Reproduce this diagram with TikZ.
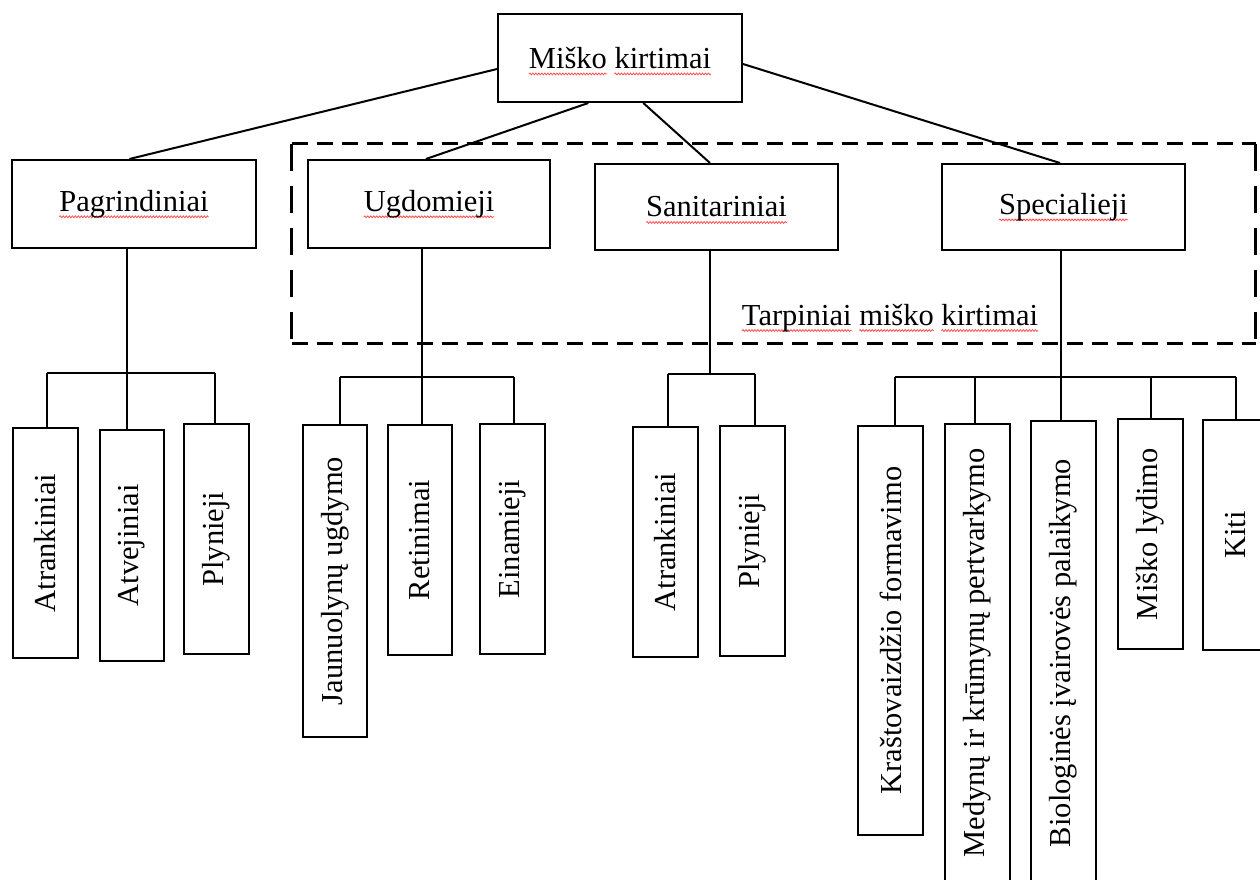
\documentclass[tikz,border=0pt]{standalone}
\usepackage{fontspec}
\setmainfont{Liberation Serif}
\usepackage{graphicx}
\usetikzlibrary{decorations.pathmorphing}
\newsavebox\spbox
\newcommand\spellerr[1]{\sbox\spbox{#1}\rlap{\tikz[overlay,baseline=0pt,x=1pt,y=1pt]\draw[red!70, line width=0.8pt, decorate, decoration={snake, amplitude=0.9pt, segment length=3pt}] (0,-5.5) -- (\the\wd\spbox,-5.5);}\usebox\spbox}
\begin{document}
\begin{tikzpicture}[x=1pt,y=-1pt,
  txt/.style={font=\fontsize{30.5}{36}\selectfont},
  box/.style={txt, draw, line width=2pt, inner sep=0pt, align=center},
  hbox/.style={box, minimum width=243pt, minimum height=88pt},
  vbox/.style={box, minimum width=65pt},
  link/.style={line width=2pt},
  hdash/.style={line width=3pt, dash pattern=on 16pt off 9pt},
  vdash/.style={line width=3pt, dash pattern=on 27pt off 15pt}]
\clip (0,0) rectangle (1260,879);
\fill[white] (0,0) rectangle (1260,879);

% level 0 and 1
\node[hbox, minimum width=244pt] (top) at (620,58) {\spellerr{Miško} \spellerr{kirtimai}};
\node[hbox, minimum width=244pt] (pag) at (134,204) {\spellerr{Pagrindiniai}};
\node[hbox, minimum width=242pt] (ugd) at (429,204) {\spellerr{Ugdomieji}};
\node[hbox, minimum height=86pt] (san) at (716.5,207) {\spellerr{Sanitariniai}};
\node[hbox, minimum height=86pt] (spe) at (1063.5,207) {\spellerr{Specialieji}};

% group frame
\coordinate (fnw) at (291.5,143.5);
\coordinate (fse) at (1255.5,343.5);
\draw[hdash] (fnw) -- (fnw -| fse);
\draw[hdash] (fnw |- fse) -- (fse);
\draw[vdash] (fnw) -- (fnw |- fse);
\draw[vdash] (fnw -| fse) -- (fse);
\node[txt, anchor=base, inner sep=0pt] (tarp) at (890,325) {\spellerr{Tarpiniai} \spellerr{miško} \spellerr{kirtimai}};

% children of Pagrindiniai
\node[vbox, minimum height=230pt] (pa1) at (45.5,543) {\rotatebox{90}{Atrankiniai}};
\node[vbox, minimum width=64pt, minimum height=231pt] (pa2) at (132,545.5) {\rotatebox{90}{Atvejiniai}};
\node[vbox, minimum height=230pt] (pa3) at (216.5,539) {\rotatebox{90}{Plynieji}};

% children of Ugdomieji
\node[vbox, minimum width=64pt, minimum height=312pt] (ug1) at (335,581) {\rotatebox{90}{Jaunuolynų ugdymo}};
\node[vbox, minimum width=64pt, minimum height=230pt] (ug2) at (420,540) {\rotatebox{90}{Retinimai}};
\node[vbox, minimum height=230pt] (ug3) at (512.5,539) {\rotatebox{90}{Einamieji}};

% children of Sanitariniai
\node[vbox, minimum height=230pt] (sa1) at (665.5,542) {\rotatebox{90}{Atrankiniai}};
\node[vbox, minimum height=230pt] (sa2) at (752.5,541) {\rotatebox{90}{Plynieji}};

% children of Specialieji
\node[vbox, minimum height=409pt] (sp1) at (890.5,630.5) {\rotatebox{90}{Kraštovaizdžio formavimo}};
\node[vbox, minimum height=458pt] (sp2) at (977.5,653) {\rotatebox{90}{Medynų ir krūmynų pertvarkymo}};
\node[vbox, minimum height=464pt] (sp3) at (1063.5,653) {\rotatebox{90}{Biologinės įvairovės palaikymo}};
\node[vbox, minimum height=230pt] (sp4) at (1150.5,534) {\rotatebox{90}{Miško lydimo}};
\node[vbox, minimum height=230pt] (sp5) at (1235.5,535) {\rotatebox{90}{Kiti}};

% connectors from the root
\draw[link] ([yshift=-11pt]top.west) -- ([xshift=-4.6pt]pag.north);
\draw[link] ([xshift=-31.7pt]top.south) -- ([xshift=-3.1pt]ugd.north);
\draw[link] ([xshift=23.3pt]top.south) -- ([xshift=-6.5pt]san.north);
\draw[link] ([yshift=-6pt]top.east) -- ([xshift=-3.5pt]spe.north);

% bus levels
\coordinate (bp) at (0,373);
\coordinate (bu) at (0,377);
\coordinate (bs) at (0,374);
\coordinate (bx) at (0,377);

% connector points on children
\coordinate (pa1t) at ([xshift=1.5pt]pa1.north);
\coordinate (pa2t) at ([xshift=-5pt]pa2.north);
\coordinate (pa3t) at ([xshift=-1.5pt]pa3.north);
\coordinate (ug1t) at ([xshift=5pt]ug1.north);
\coordinate (ug2t) at ([xshift=2pt]ug2.north);
\coordinate (ug3t) at ([xshift=1.5pt]ug3.north);
\coordinate (sa1t) at ([xshift=2.5pt]sa1.north);
\coordinate (sa2t) at ([xshift=2.5pt]sa2.north);
\coordinate (sp1t) at ([xshift=4.5pt]sp1.north);
\coordinate (sp2t) at ([xshift=-2.5pt]sp2.north);
\coordinate (sp3t) at ([xshift=-2.5pt]sp3.north);
\coordinate (sp4t) at ([xshift=0.5pt]sp4.north);
\coordinate (sp5t) at ([xshift=0.5pt]sp5.north);

% Pagrindiniai tree
\draw[link] ([xshift=-7pt]pag.south) -- (pa2t);
\draw[link] (pa1t |- bp) -- (pa3t |- bp);
\draw[link] (pa1t) -- (pa1t |- bp);
\draw[link] (pa3t) -- (pa3t |- bp);

% Ugdomieji tree
\draw[link] ([xshift=-7pt]ugd.south) -- (ug2t);
\draw[link] (ug1t |- bu) -- (ug3t |- bu);
\draw[link] (ug1t) -- (ug1t |- bu);
\draw[link] (ug3t) -- (ug3t |- bu);

% Sanitariniai tree
\coordinate (sanb) at ([xshift=-6.5pt]san.south);
\draw[link] (sanb) -- (sanb |- bs);
\draw[link] (sa1t |- bs) -- (sa2t |- bs);
\draw[link] (sa1t) -- (sa1t |- bs);
\draw[link] (sa2t) -- (sa2t |- bs);

% Specialieji tree
\draw[link] ([xshift=-2.5pt]spe.south) -- (sp3t);
\draw[link] (sp1t |- bx) -- (sp5t |- bx);
\draw[link] (sp1t) -- (sp1t |- bx);
\draw[link] (sp2t) -- (sp2t |- bx);
\draw[link] (sp4t) -- (sp4t |- bx);
\draw[link] (sp5t) -- (sp5t |- bx);
\end{tikzpicture}
\end{document}
